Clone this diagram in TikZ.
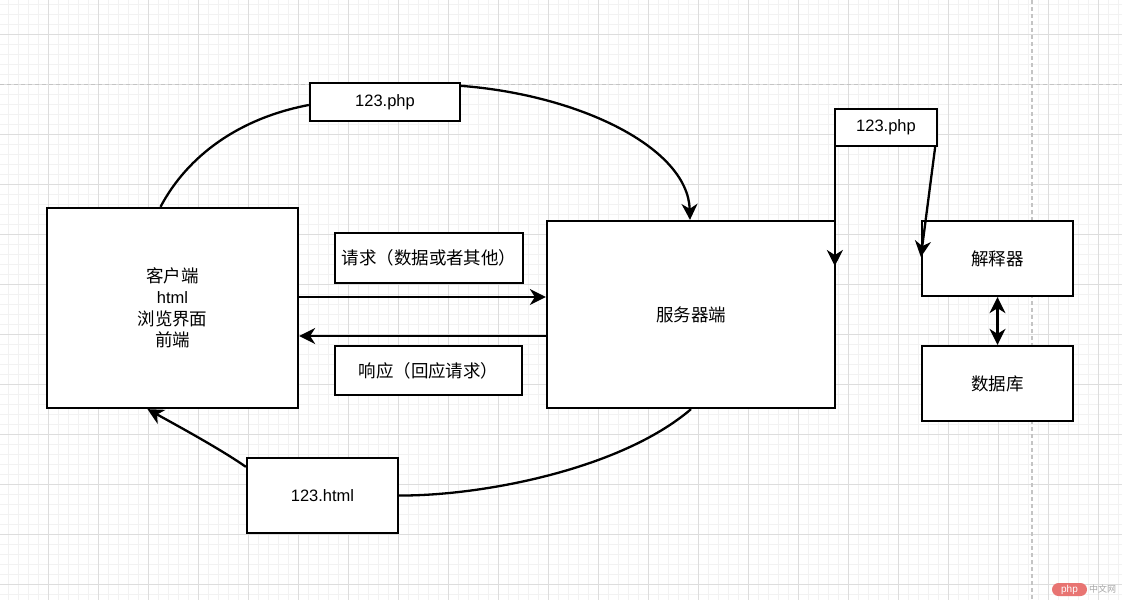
\documentclass[tikz,border=0pt]{standalone}
\usepackage{fontspec}
\setmainfont{Liberation Sans}
\newfontfamily\cjk{Noto Sans CJK SC}[Scale=1.06]
\usetikzlibrary{arrows.meta}
\definecolor{minorgrid}{HTML}{F2F2F2}
\definecolor{majorgrid}{HTML}{DDDDDD}
\definecolor{dashgrey}{HTML}{C4C4C4}
\definecolor{phpred}{HTML}{E87472}
\tikzset{
  box/.style={draw=black, line width=2.3pt, fill=white, inner sep=0pt,
    font=\fontsize{16.5}{21.5}\selectfont, align=center},
  conn/.style={line width=2.3pt, draw=black},
  tip/.style={-{Stealth[length=16pt,width=16pt,inset=5pt]}},
  dtip/.style={{Stealth[length=16pt,width=16pt,inset=5pt]}-{Stealth[length=16pt,width=16pt,inset=5pt]}},
}
\begin{document}
\setlength{\lineskiplimit}{-30pt}%
\begin{tikzpicture}[x=1pt,y=-1pt]
\useasboundingbox[fill=white] (0,0) rectangle (1122,600);
% grid
\foreach \x in {8,18,...,1118} \draw[minorgrid, line width=0.7pt] (\x,0) -- (\x,600);
\foreach \y in {4,14,...,594} \draw[minorgrid, line width=0.7pt] (0,\y) -- (1122,\y);
\foreach \x in {48,98,...,1098} \draw[majorgrid, line width=0.8pt] (\x,0) -- (\x,600);
\foreach \y in {34,84,...,584} \draw[majorgrid, line width=0.8pt] (0,\y) -- (1122,\y);
\draw[dashgrey, line width=1pt, dash pattern=on 4pt off 3pt] (0,84) -- (1122,84);
\draw[dashgrey, line width=1.5pt, dash pattern=on 4pt off 3pt] (1032,0) -- (1032,600);

% nodes
\node[box, minimum width=251pt, minimum height=200pt] (client) at (172.5,308)
  {{\cjk 客户端}\\html\\{\cjk 浏览界面}\\{\cjk 前端}};
\node[box, minimum width=288pt, minimum height=187pt] (server) at (691,314.5) {\cjk 服务器端};
\node[box, minimum width=150pt, minimum height=38pt] (php1) at (385,102) {123.php};
\node[box, minimum width=102pt, minimum height=37pt] (php2) at (886,127.5) {123.php};
\node[box, minimum width=188pt, minimum height=50pt] (req) at (429,258) {\cjk 请求（数据或者其他）};
\node[box, minimum width=187pt, minimum height=49pt] (resp) at (428.5,370.5) {\cjk 响应（回应请求）};
\node[box, minimum width=151pt, minimum height=75pt] (html) at (322.5,495.5) {123.html};
\node[box, minimum width=151pt, minimum height=75pt] (interp) at (997.5,258.5) {\cjk 解释器};
\node[box, minimum width=151pt, minimum height=75pt] (db) at (997.5,383.5) {\cjk 数据库};

% connectors
\draw[conn] ([xshift=-12pt]client.north) .. controls (188,155) and (240,118) .. ([yshift=-3pt]php1.west);
\draw[conn, tip] ([yshift=-4pt]php1.north east) .. controls (580,95) and (688,148) .. ([xshift=-1pt]server.north);
\draw[conn, tip] (client.east |- 0,297) -- (server.west |- 0,297);
\draw[conn, tip] (server.west |- 0,336) -- (client.east |- 0,336);
\draw[conn] (server.south) .. controls (620,470) and (480,496) .. (html.east);
\draw[conn, tip] ([yshift=-10pt]html.north west) .. controls (222,450) and (178,426) .. ([xshift=-25pt]client.south);
\draw[conn, tip] ([xshift=1pt]php2.south west) -- ([xshift=1pt]php2.south west |- 0,266);
\draw[conn, tip] ([xshift=-3pt]php2.south east) -- (interp.west |- 0,257);
\draw[conn, dtip] (interp.south) -- (db.north);

% watermark
\node[fill=phpred, rounded corners=6.5pt, minimum width=35pt, minimum height=13pt, inner sep=0pt,
  text=white, font=\fontsize{10}{10}\selectfont] (wm) at (1069.5,589.5) {php};
\node[anchor=west, inner sep=0pt, text=gray!70, font=\cjk\fontsize{8.5}{9}\selectfont] (wmt) at (1089,589.5) {中文网};
\end{tikzpicture}
\end{document}
